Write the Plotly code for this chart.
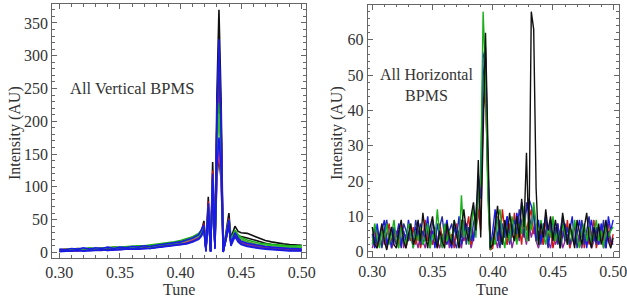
import plotly.graph_objects as go

# ---------------- Left panel: All Vertical BPMS ----------------
tune_v = [0.300, 0.305, 0.310, 0.315, 0.320, 0.325, 0.330, 0.335, 0.340, 0.345,
          0.350, 0.355, 0.360, 0.365, 0.370, 0.375, 0.380, 0.385, 0.390, 0.395,
          0.400, 0.405, 0.410, 0.415,
          0.417, 0.4193, 0.421, 0.4229, 0.4248, 0.4265, 0.4284, 0.4300, 0.4317,
          0.4335, 0.4352, 0.4375, 0.4399, 0.4416, 0.4449,
          0.4475, 0.450, 0.455, 0.460, 0.465, 0.470, 0.475, 0.480, 0.485, 0.490,
          0.495, 0.500]

v_black = [3, 4, 3, 5, 4, 6, 4, 6, 5, 7, 6, 7, 6, 8, 7, 9, 8, 10, 11, 12, 14, 16, 20, 25,
           30, 48, 8, 85, 3, 138, 12, 240, 370, 230, 2, 30, 60, 22, 40,
           32, 30, 29, 25, 21, 18, 16, 14, 13, 12, 12, 11]
v_blue = [5, 4, 6, 5, 7, 5, 7, 6, 8, 6, 8, 7, 9, 8, 10, 9, 11, 12, 13, 15, 16, 19, 22, 27,
          33, 42, 2, 75, 0.5, 120, 5, 210, 325, 200, 0.5, 25, 50, 14, 30,
          22, 17, 14, 12, 10, 9, 8, 7, 7, 6, 6, 5]
v_navy = [2, 3, 2, 4, 3, 3, 4, 3, 5, 4, 5, 5, 6, 5, 7, 6, 8, 9, 10, 11, 12, 14, 17, 21,
          26, 36, 4, 68, 1, 112, 8, 195, 300, 185, 1, 20, 45, 12, 25,
          18, 13, 10, 8, 7, 6, 5, 4, 4, 3, 3, 3]
v_red = [4, 5, 4, 6, 5, 6, 5, 7, 6, 8, 7, 8, 8, 9, 9, 10, 11, 12, 14, 15, 17, 20, 23, 28,
         32, 44, 6, 78, 3, 125, 10, 200, 290, 190, 3, 24, 52, 16, 32,
         24, 20, 16, 13, 11, 9, 8, 7, 6, 5, 5, 4]
v_orange = [3, 2, 3, 4, 3, 4, 5, 4, 5, 5, 6, 6, 7, 6, 8, 7, 9, 10, 11, 12, 14, 16, 19, 24,
            28, 40, 5, 72, 2, 118, 9, 185, 278, 180, 2, 22, 48, 15, 28,
            20, 16, 13, 11, 9, 8, 7, 6, 5, 5, 4, 4]
v_purple = [2, 3, 3, 2, 4, 3, 4, 4, 3, 5, 4, 5, 6, 5, 6, 7, 7, 8, 9, 10, 12, 14, 17, 22,
            26, 38, 4, 66, 2, 110, 8, 165, 245, 160, 1, 20, 45, 13, 26,
            19, 15, 12, 10, 8, 7, 6, 5, 5, 4, 4, 3]
v_green = [4, 5, 5, 6, 5, 7, 6, 7, 7, 8, 8, 9, 9, 10, 10, 11, 12, 13, 14, 16, 18, 21, 24, 29,
           33, 40, 7, 70, 4, 112, 12, 160, 228, 155, 4, 26, 50, 20, 34,
           27, 23, 19, 16, 14, 13, 12, 11, 11, 10, 10, 10]
v_green2 = [3, 4, 3, 5, 4, 5, 5, 6, 6, 7, 6, 7, 8, 7, 9, 8, 10, 11, 12, 13, 15, 18, 21, 25,
            29, 36, 6, 64, 3, 104, 10, 150, 212, 145, 3, 22, 44, 17, 30,
            24, 20, 16, 13, 12, 11, 10, 9, 9, 8, 8, 8]
v_blue3 = [1, 2, 2, 3, 2, 3, 3, 4, 3, 4, 4, 5, 5, 5, 6, 6, 7, 8, 9, 10, 11, 13, 16, 20,
           24, 34, 1, 62, 0.5, 100, 6, 130, 175, 125, 0.5, 18, 40, 10, 24,
           16, 12, 9, 7, 6, 5, 4, 3, 3, 2, 2, 2]
v_pink = [2, 3, 2, 4, 3, 4, 4, 5, 4, 5, 5, 6, 6, 7, 7, 8, 9, 10, 11, 12, 14, 16, 19, 23,
          27, 36, 5, 65, 3, 105, 9, 120, 155, 115, 2, 20, 42, 14, 27,
          19, 15, 12, 10, 8, 7, 6, 5, 4, 4, 3, 3]
v_black2 = [2, 2, 3, 3, 3, 4, 4, 4, 5, 5, 5, 6, 6, 6, 7, 7, 8, 9, 10, 11, 12, 14, 17, 21,
            25, 35, 4, 63, 2, 102, 8, 115, 145, 110, 2, 19, 42, 13, 28,
            26, 24, 22, 19, 16, 14, 12, 10, 9, 8, 7, 7]

# ---------------- Right panel: All Horizontal BPMS ----------------
tune_h = [round(0.300 + 0.002 * i, 3) for i in range(101)]

h_black = [7, 2, 1, 5, 8, 3, 0.5, 4, 7, 2,
           1, 6, 9, 3, 1, 5, 8, 2, 4, 9,
           3, 11, 5, 1, 7, 10, 4, 1, 6, 3,
           1, 8, 4, 2, 9, 5, 1, 7, 12, 6,
           3, 10, 14, 6, 26, 4, 38, 62, 30, 1,
           2, 8, 13, 5, 2, 9, 4, 11, 6, 3,
           10, 4, 15, 7, 28, 3, 68, 63, 18, 2,
           8, 4, 12, 6, 10, 3, 9, 5, 1, 11,
           6, 2, 8, 4, 1, 9, 5, 2, 7, 11,
           4, 1, 7, 3, 8, 2, 5, 9, 3, 1,
           4]
h_red = [3, 6, 1, 4, 7, 2, 5, 8, 1, 3,
         6, 2, 8, 4, 1, 5, 3, 7, 2, 6,
         1, 4, 9, 3, 6, 2, 5, 1, 8, 4,
         2, 7, 3, 5, 1, 8, 4, 9, 3, 6,
         10, 2, 5, 8, 12, 6, 40, 45, 20, 0.5,
         1, 5, 10, 3, 12, 6, 2, 8, 4, 11,
         3, 7, 2, 11, 6, 9, 12, 5, 8, 3,
         6, 2, 9, 4, 7, 1, 5, 8, 2, 6,
         3, 9, 1, 5, 7, 2, 4, 8, 1, 6,
         2, 5, 9, 1, 4, 7, 3, 6, 8, 2,
         5]
h_blue = [5, 1, 8, 3, 6, 9, 2, 5, 1, 7,
          4, 8, 2, 6, 3, 9, 5, 1, 7, 4,
          8, 2, 5, 10, 3, 6, 1, 8, 4, 2,
          6, 9, 3, 1, 7, 4, 10, 2, 5, 8,
          4, 7, 3, 9, 16, 22, 55, 58, 25, 1,
          6, 12, 3, 9, 2, 7, 10, 4, 8, 5,
          11, 6, 14, 9, 12, 15, 13, 10, 4, 9,
          3, 7, 10, 2, 6, 9, 4, 8, 1, 5,
          8, 3, 6, 10, 2, 5, 9, 4, 7, 1,
          6, 9, 3, 7, 2, 8, 5, 1, 10, 6,
          9]
h_green = [2, 8, 4, 1, 6, 3, 8, 2, 5, 9,
           3, 1, 7, 4, 2, 8, 5, 1, 6, 3,
           7, 2, 4, 8, 1, 5, 3, 12, 4, 1,
           8, 3, 6, 2, 9, 5, 1, 16, 4, 7,
           2, 6, 13, 4, 16, 20, 68, 50, 15, 0.5,
           4, 2, 9, 12, 5, 1, 7, 3, 10, 6,
           2, 8, 5, 13, 3, 9, 6, 14, 7, 2,
           9, 5, 2, 7, 4, 10, 3, 6, 1, 8,
           5, 2, 7, 3, 9, 4, 1, 6, 8, 3,
           7, 2, 5, 9, 3, 6, 1, 8, 4, 6,
           7]
h_navy = [4, 7, 2, 5, 1, 6, 9, 3, 7, 4,
          2, 5, 1, 8, 6, 3, 7, 2, 9, 5,
          2, 6, 3, 7, 1, 9, 5, 2, 7, 10,
          4, 2, 6, 8, 3, 1, 6, 4, 9, 2,
          7, 3, 8, 11, 20, 15, 50, 55, 22, 1,
          3, 7, 5, 1, 8, 4, 10, 2, 6, 9,
          5, 12, 8, 4, 14, 11, 7, 12, 3, 6,
          2, 8, 5, 1, 9, 4, 7, 2, 6, 10,
          3, 7, 2, 5, 8, 1, 4, 9, 2, 6,
          10, 3, 5, 2, 7, 4, 9, 1, 6, 3,
          2]
h_purple = [1, 4, 6, 2, 3, 7, 1, 5, 3, 6,
            2, 4, 7, 1, 5, 3, 6, 2, 4, 1,
            5, 3, 1, 6, 4, 2, 7, 3, 1, 5,
            3, 6, 1, 4, 2, 5, 3, 1, 6, 3,
            5, 1, 4, 7, 10, 18, 42, 48, 18, 0.5,
            2, 4, 1, 6, 3, 5, 2, 7, 1, 4,
            6, 3, 9, 5, 2, 8, 4, 7, 3, 1,
            4, 2, 6, 3, 1, 5, 2, 4, 6, 1,
            3, 5, 1, 4, 2, 6, 3, 1, 5, 2,
            4, 1, 3, 6, 2, 5, 1, 3, 4, 2,
            3]

x_ticks = [0.30, 0.35, 0.40, 0.45, 0.50]
y_ticks_v = [0, 50, 100, 150, 200, 250, 300, 350]
y_ticks_h = [0, 10, 20, 30, 40, 50, 60]

FONT = "Liberation Serif, Times New Roman, serif"
C_BLACK = "#111111"
C_RED = "#d01818"
C_BLUE = "#1a1ae6"
C_NAVY = "#2a2aa0"
C_GREEN = "#18b018"
C_PURPLE = "#8a2a9a"
C_ORANGE = "#c0601a"
C_PINK = "#e0407a"

fig = go.Figure()

left_series = [
    (v_black, C_BLACK), (v_black2, C_BLACK), (v_orange, C_ORANGE), (v_red, C_RED),
    (v_pink, C_PINK), (v_purple, C_PURPLE), (v_green, C_GREEN), (v_green2, "#30c030"),
    (v_navy, C_NAVY), (v_blue3, C_BLUE), (v_blue, C_BLUE),
]
for ys, col in left_series:
    fig.add_trace(go.Scatter(x=tune_v, y=ys, mode="lines", xaxis="x", yaxis="y",
                             line=dict(color=col, width=1.6), showlegend=False,
                             hoverinfo="skip"))

right_series = [
    (h_purple, C_PURPLE), (h_red, C_RED), (h_navy, C_NAVY), (h_blue, C_BLUE),
    (h_green, C_GREEN), (h_black, C_BLACK),
]
for ys, col in right_series:
    fig.add_trace(go.Scatter(x=tune_h, y=ys, mode="lines", xaxis="x2", yaxis="y2",
                             line=dict(color=col, width=1.4), showlegend=False,
                             hoverinfo="skip"))

axis_common = dict(
    showline=True, linecolor="#666666", linewidth=1, mirror="allticks",
    ticks="inside", ticklen=5, tickcolor="#666666", tickwidth=1,
    showgrid=False, zeroline=False, automargin=False, ticklabeloverflow="allow",
    tickfont=dict(family=FONT, size=16, color="#333333"),
)

fig.update_layout(
    width=627, height=306,
    margin=dict(l=0, r=0, t=0, b=0, autoexpand=False),
    paper_bgcolor="white", plot_bgcolor="white",
    font=dict(family=FONT, color="#333333"),
    xaxis=dict(domain=[0.0834, 0.488], range=[0.2942, 0.5035], tickvals=x_ticks,
               tickformat=".2f", anchor="y",
               minor=dict(ticks="inside", ticklen=2.5, dtick=0.01, tickcolor="#666666"),
               **axis_common),
    yaxis=dict(domain=[0.157, 0.986], range=[-8.5, 378.5], tickvals=y_ticks_v,
               anchor="x",
               minor=dict(ticks="inside", ticklen=2.5, dtick=10, tickcolor="#666666"),
               **axis_common),
    xaxis2=dict(domain=[0.5865, 0.987], range=[0.2962, 0.5047], tickvals=x_ticks,
                tickformat=".2f", anchor="y2",
                minor=dict(ticks="inside", ticklen=2.5, dtick=0.01, tickcolor="#666666"),
                **axis_common),
    yaxis2=dict(domain=[0.161, 0.985], range=[-1.42, 70.0], tickvals=y_ticks_h,
                anchor="x2",
                minor=dict(ticks="inside", ticklen=2.5, dtick=2, tickcolor="#666666"),
                **axis_common),
)


def label(text, px, py, angle=0, size=16):
    fig.add_annotation(text=text, x=px / 627, y=1 - py / 306, textangle=angle,
                       xref="paper", yref="paper", xanchor="center", yanchor="middle",
                       showarrow=False, align="center",
                       font=dict(family=FONT, size=size, color="#333333"))


label("All Vertical BPMS", 131.7, 88, size=16.5)
label("All Horizontal<br>BPMS", 426, 85)
label("Intensity (AU)", 15, 133, angle=-90)
label("Intensity (AU)", 337, 133, angle=-90)
label("Tune", 179, 289)
label("Tune", 492, 289)

fig.write_html("out.html", config={"displayModeBar": False},
               post_script="document.body.style.margin='0';document.body.style.padding='0';")
